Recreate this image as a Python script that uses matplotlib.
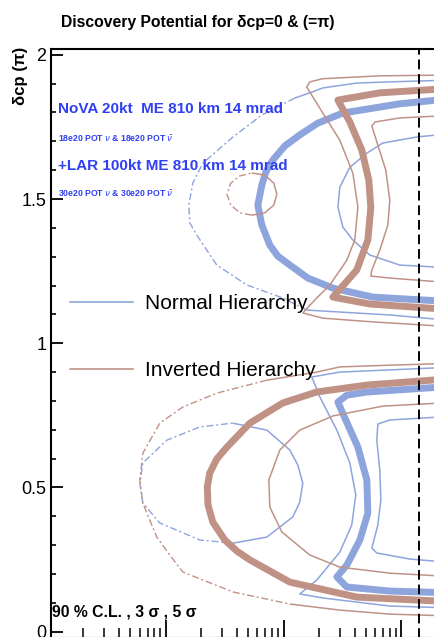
import matplotlib.pyplot as plt
from matplotlib.lines import Line2D
from matplotlib.ticker import MultipleLocator, FuncFormatter

# contours: (sin^2 2theta13, delta_cp / pi)
# region around delta = 3pi/2
nh_outer_top = [(0.3, 1.913), (0.0797, 1.906), (0.0418, 1.902), (0.0215, 1.885),
                (0.0167, 1.868), (0.01245, 1.850), (0.00653, 1.791), (0.00371, 1.715),
                (0.00206, 1.624), (0.001695, 1.555), (0.001567, 1.479), (0.0016, 1.417),
                (0.001833, 1.375), (0.00271, 1.271), (0.00487, 1.202), (0.00984, 1.157),
                (0.01574, 1.115), (0.0797, 1.098), (0.3, 1.077)]
nh_thick_top = [(0.3, 1.850), (0.0969, 1.830), (0.0318, 1.798), (0.0195, 1.763),
                (0.0137, 1.722), (0.01024, 1.684), (0.0081, 1.635), (0.00706, 1.593),
                (0.00653, 1.548), (0.00604, 1.479), (0.00653, 1.410), (0.00764, 1.340),
                (0.00893, 1.302), (0.0113, 1.271), (0.01605, 1.226), (0.0262, 1.191),
                (0.0572, 1.160), (0.3, 1.143)]
nh_inner_top = [(0.3, 1.729), (0.135, 1.715), (0.0695, 1.694), (0.0509, 1.659),
                (0.0365, 1.610), (0.0300, 1.541), (0.0289, 1.472), (0.0318, 1.403),
                (0.0387, 1.358), (0.0539, 1.306), (0.0969, 1.271), (0.3, 1.260)]
ih_outer_top = [(0.3, 1.930), (0.0656, 1.927), (0.0215, 1.917), (0.0167, 1.906),
                (0.0157, 1.888), (0.0177, 1.854), (0.0215, 1.798), (0.0300, 1.704),
                (0.0387, 1.590), (0.0427, 1.472), (0.0402, 1.358), (0.0344, 1.288),
                (0.0247, 1.202), (0.0184, 1.150), (0.01455, 1.105), (0.0215, 1.087),
                (0.0572, 1.074), (0.3, 1.056)]
ih_thick_top = [(0.3, 1.885), (0.0656, 1.868), (0.0289, 1.843), (0.0365, 1.767),
                (0.0461, 1.670), (0.0529, 1.565), (0.0550, 1.472), (0.0519, 1.358),
                (0.0418, 1.254), (0.0262, 1.160), (0.0539, 1.136), (0.3, 1.115)]
ih_inner_top = [(0.3, 1.791), (0.0969, 1.781), (0.0595, 1.767), (0.0561, 1.753),
                (0.0631, 1.687), (0.0737, 1.600), (0.0797, 1.496), (0.0767, 1.410),
                (0.0656, 1.323), (0.0561, 1.254), (0.0550, 1.233), (0.0797, 1.226),
                (0.3, 1.208)]
ih_ring_top = [(0.00537, 1.590), (0.00692, 1.583), (0.00826, 1.555), (0.00876, 1.517),
               (0.00826, 1.479), (0.00692, 1.452), (0.00537, 1.444), (0.00425, 1.452),
               (0.00356, 1.479), (0.0033, 1.517), (0.00356, 1.555), (0.00425, 1.580),
               (0.00537, 1.590)]

# region around delta = pi/2
ih_outer_bot = [(0.3, 0.931), (0.0797, 0.924), (0.0300, 0.918), (0.0191, 0.900),
                (0.0072, 0.872), (0.00271, 0.827), (0.001394, 0.779), (8.89e-4, 0.723),
                (6.38e-4, 0.619), (6.02e-4, 0.526), (6.38e-4, 0.446), (7.31e-4, 0.387),
                (8.39e-4, 0.328), (1.081e-3, 0.266), (1.394e-3, 0.207), (3.71e-3, 0.138),
                (0.01129, 0.096), (0.0300, 0.075), (0.0797, 0.061), (0.3, 0.054)]
ih_thick_bot = [(0.3, 0.879), (0.0509, 0.855), (0.0191, 0.831), (0.00984, 0.793),
                (0.00517, 0.723), (0.0033, 0.640), (0.00271, 0.599), (0.00236, 0.550),
                (0.00225, 0.502), (0.00228, 0.440), (0.002506, 0.380), (0.00317, 0.318),
                (0.00400, 0.280), (0.00517, 0.249), (0.01129, 0.172), (0.0418, 0.120),
                (0.3, 0.103)]
ih_inner_bot = [(0.3, 0.796), (0.0695, 0.782), (0.0262, 0.748), (0.01373, 0.699),
                (0.00929, 0.630), (0.00749, 0.526), (0.00764, 0.432), (0.00965, 0.346),
                (0.01669, 0.266), (0.0300, 0.224), (0.0797, 0.203), (0.3, 0.190)]
nh_outer_bot = [(0.3, 0.918), (0.0300, 0.900), (0.01735, 0.883), (0.0203, 0.814),
                (0.0283, 0.699), (0.0365, 0.585), (0.0410, 0.474), (0.0379, 0.370),
                (0.0300, 0.276), (0.0191, 0.179), (0.01373, 0.131), (0.0215, 0.117),
                (0.0797, 0.089), (0.3, 0.082)]
nh_thick_bot = [(0.3, 0.852), (0.0509, 0.831), (0.0344, 0.820), (0.0289, 0.796),
                (0.0331, 0.741), (0.0427, 0.640), (0.0509, 0.526), (0.0519, 0.411),
                (0.0444, 0.318), (0.0344, 0.231), (0.0283, 0.190), (0.0344, 0.155),
                (0.0797, 0.141), (0.3, 0.134)]
nh_inner_bot = [(0.3, 0.748), (0.0797, 0.734), (0.0631, 0.720), (0.0618, 0.664),
                (0.0656, 0.560), (0.0669, 0.456), (0.0631, 0.370), (0.0561, 0.290),
                (0.0618, 0.273), (0.1178, 0.252), (0.3, 0.238)]
nh_ring_bot = [(3.71e-3, 0.723), (7.20e-3, 0.699), (0.01129, 0.630), (0.0132, 0.578),
               (0.01455, 0.515), (0.01373, 0.450), (0.01197, 0.398), (7.20e-3, 0.328),
               (3.71e-3, 0.307), (1.944e-3, 0.318), (8.89e-4, 0.377), (6.38e-4, 0.446),
               (6.02e-4, 0.515), (6.38e-4, 0.585), (1.02e-3, 0.664), (1.944e-3, 0.710),
               (3.71e-3, 0.723)]

chooz_limit = 0.14
y_ticks = [0, 0.5, 1, 1.5, 2]

BLUE = '#8ea4dc'
BROWN = '#c09286'
TEXT_BLUE = '#2f3ff2'
DASHDOT = (0, (5, 2, 1.5, 2))

plt.rcParams['font.family'] = ['Liberation Sans', 'DejaVu Sans']

fig = plt.figure(figsize=(4.35, 6.37), dpi=100)
# the original is cropped: right and bottom edges of the frame fall outside
ax = fig.add_axes([51 / 435, -0.5 / 637, 468.2 / 435, 588.5 / 637])


def draw(ax, curve, color, lw, ls='-'):
  x = [p[0] for p in curve]
  y = [p[1] for p in curve]
  ax.plot(x, y, color=color, lw=lw, ls=ls, solid_joinstyle='round',
          solid_capstyle='butt')


# blue (normal hierarchy)
draw(ax, nh_outer_top[:6], BLUE, 1.1)
draw(ax, nh_outer_top[5:17], BLUE, 1.0, DASHDOT)
draw(ax, nh_outer_top[16:], BLUE, 1.1)
draw(ax, nh_inner_top, BLUE, 1.1)
draw(ax, nh_outer_bot, BLUE, 1.1)
draw(ax, nh_inner_bot, BLUE, 1.1)
draw(ax, nh_ring_bot[:9], BLUE, 1.1)
draw(ax, nh_ring_bot[8:], BLUE, 1.0, DASHDOT)
draw(ax, nh_thick_top, BLUE, 5)
draw(ax, nh_thick_bot, BLUE, 5)

# brown (inverted hierarchy)
draw(ax, ih_outer_top, BROWN, 1.1)
draw(ax, ih_inner_top, BROWN, 1.1)
draw(ax, ih_ring_top[:7], BROWN, 1.1)
draw(ax, ih_ring_top[6:], BROWN, 1.0, DASHDOT)
draw(ax, ih_outer_bot[:5], BROWN, 1.1)
draw(ax, ih_outer_bot[4:17], BROWN, 1.0, DASHDOT)
draw(ax, ih_outer_bot[16:], BROWN, 1.1)
draw(ax, ih_inner_bot, BROWN, 1.1)
draw(ax, ih_thick_top, BROWN, 5)
draw(ax, ih_thick_bot, BROWN, 5)

ax.axvline(chooz_limit, color='black', lw=1.4, ls=(0, (5, 2.5)))

ax.set_xscale('log')
ax.set_xlim(1.06e-4, 1)
ax.set_ylim(-0.02, 2.02)
ax.set_yticks(y_ticks)
ax.yaxis.set_minor_locator(MultipleLocator(0.1))
ax.yaxis.set_major_formatter(FuncFormatter(lambda v, pos: f'{v:g}'))

ax.tick_params(axis='y', which='major', direction='in', length=8.5, width=1.3,
               labelsize=13, pad=3.5, right=False)
ax.tick_params(axis='y', which='minor', direction='in', length=3.6, width=1.2,
               right=False)
ax.tick_params(axis='x', which='major', direction='in', length=13, width=1.3,
               top=False, labelbottom=False)
ax.tick_params(axis='x', which='minor', direction='in', length=7, width=1.1,
               top=False)
for side in ['left', 'top', 'bottom', 'right']:
  ax.spines[side].set_linewidth(1.5)

handles = [Line2D([], [], color=BLUE, lw=1.2, label='Normal Hierarchy'),
           Line2D([], [], color=BROWN, lw=1.2, label='Inverted Hierarchy')]
ax.legend(handles=handles, loc='upper left', bbox_to_anchor=(70 / 435, 1 - 294 / 637),
          bbox_transform=fig.transFigure, frameon=False, fontsize=15,
          handlelength=3.0, handletextpad=0.6, labelspacing=2.3,
          borderpad=0, borderaxespad=0)

fig.text(0.455, 1 - 27.3 / 637, 'Discovery Potential for δcp=0 & (=π)',
         ha='center', va='baseline', fontsize=11.3, fontweight='bold')
fig.text(0.048, 1 - 47 / 637, 'δcp (π)', rotation=90, ha='center', va='top',
         fontsize=12, fontweight='bold')

fig.text(58 / 435, 1 - 112.7 / 637, 'NoVA 20kt  ME 810 km 14 mrad',
         color=TEXT_BLUE, fontsize=11, fontweight='bold', va='baseline')
fig.text(58 / 435, 1 - 142 / 637, r'18e20 POT $\nu$ & 18e20 POT $\bar{\nu}$',
         color=TEXT_BLUE, fontsize=6.2, fontweight='bold', va='baseline')
fig.text(58 / 435, 1 - 170 / 637, '+LAR 100kt ME 810 km 14 mrad',
         color=TEXT_BLUE, fontsize=11, fontweight='bold', va='baseline')
fig.text(58 / 435, 1 - 197 / 637, r'30e20 POT $\nu$ & 30e20 POT $\bar{\nu}$',
         color=TEXT_BLUE, fontsize=6.2, fontweight='bold', va='baseline')
fig.text(52 / 435, 1 - 616.7 / 637, '90 % C.L. , 3 σ , 5 σ',
         fontsize=11.3, fontweight='bold', va='baseline')

fig.savefig('out.png', dpi=100)
